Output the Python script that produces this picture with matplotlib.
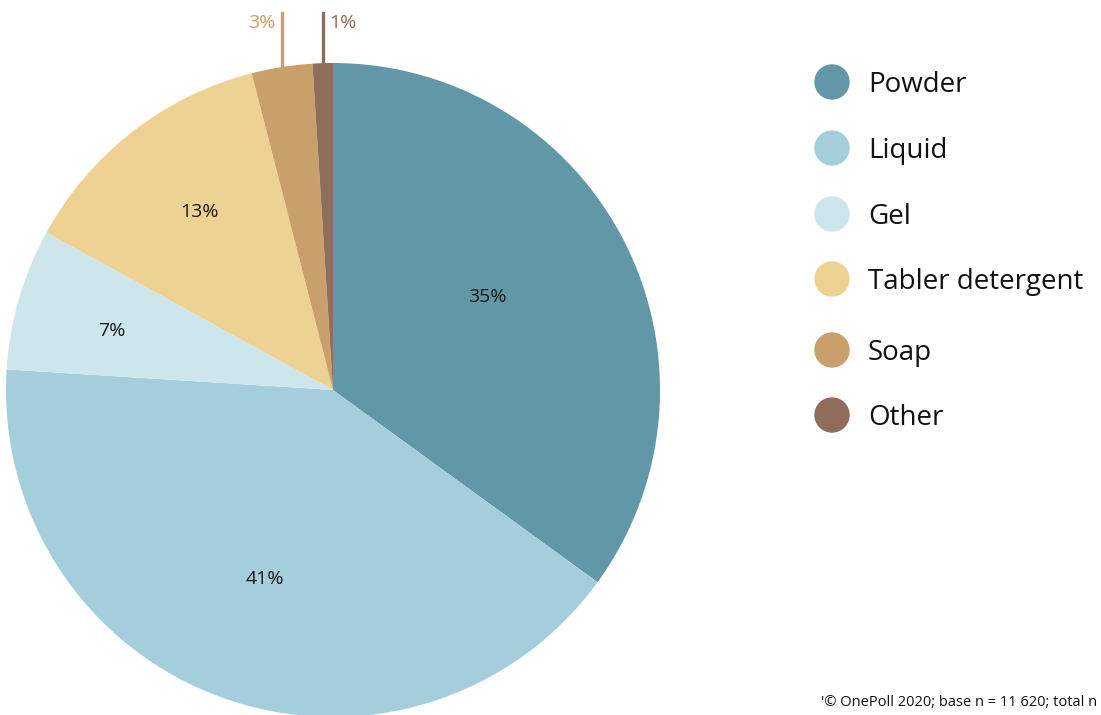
import numpy as np
import matplotlib
matplotlib.use("Agg")
import matplotlib.pyplot as plt
from matplotlib.lines import Line2D

categories = ["Powder", "Liquid", "Gel", "Tabler detergent", "Soap", "Other"]
values = [35, 41, 7, 13, 3, 1]
labels = ["35%", "41%", "7%", "13%", "3%", "1%"]
colors = ["#6297A8", "#A5CEDD", "#CCE6EB", "#EED293", "#C9A06B", "#8E6D5A"]
footer = "'© OnePoll 2020; base n = 11 620; total n"

plt.rcParams['font.family'] = ['Open Sans', 'DejaVu Sans']

W, H = 1101, 715
fig = plt.figure(figsize=(W / 100, H / 100), dpi=100)
cx, cy, R = 333, 390, 327
ax = fig.add_axes([(cx - R) / W, (H - cy - R) / H, 2 * R / W, 2 * R / H])
wedges, _ = ax.pie(values, colors=colors, startangle=90, counterclock=False,
                   radius=1.0, wedgeprops=dict(linewidth=0))
ax.set_xlim(-1, 1)
ax.set_ylim(-1, 1)
ax.set_aspect('equal')
ax.axis('off')
for w in wedges:
    w.set_clip_on(False)

inner_r = [0.55, 0.615, 0.70, 0.68]
inner_da = [4.0, 0.0, 1.3, -1.0]
for i, w in enumerate(wedges):
    mid = np.deg2rad((w.theta1 + w.theta2) / 2)
    if i < 4:
        r = inner_r[i]
        a = mid + np.deg2rad(inner_da[i])
        ax.text(r * np.cos(a), r * np.sin(a), labels[i], ha='center', va='center',
                fontsize=14, color='#1a1a1a')
    else:
        x0, y0 = np.cos(mid), np.sin(mid)
        ytop = (cy - 13) / R
        ax.add_line(Line2D([x0, x0], [y0 - 0.01, ytop], color=colors[i], lw=2.4, clip_on=False))
        if i == 4:
            ax.text(x0 - 0.02, ytop - 0.03, labels[i], ha='right', va='center',
                    fontsize=14, color=colors[i], clip_on=False)
        else:
            ax.text(x0 + 0.02, ytop - 0.03, labels[i], ha='left', va='center',
                    fontsize=14, color=colors[i], clip_on=False)

ys = [82, 148, 214, 279, 350, 415]
for cat, col, y in zip(categories, colors, ys):
    fig.patches.append(matplotlib.patches.Ellipse((832 / W, 1 - y / H), 34 / W, 34 / H,
                                                  transform=fig.transFigure, color=col))
    fig.text(868 / W, 1 - (y + 3) / H, cat, fontsize=20, va='center', ha='left', color='#111111')

fig.text(1097 / W, 1 - 703 / H, footer, fontsize=10.5, ha='right', va='center', color='#111111')

fig.savefig("out.png", dpi=100)
